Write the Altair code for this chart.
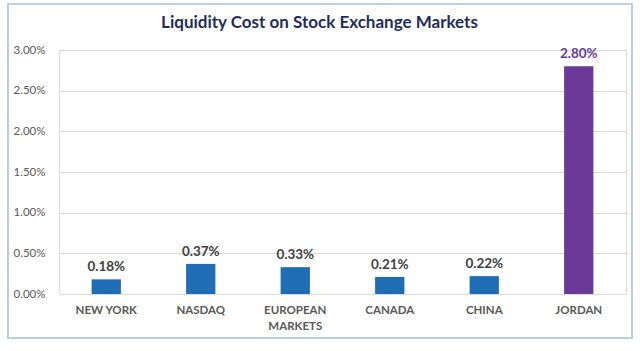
import altair as alt
import pandas as pd

markets = ["NEW YORK", "NASDAQ", "EUROPEAN MARKETS", "CANADA", "CHINA", "JORDAN"]
costs = [0.0018, 0.0037, 0.0033, 0.0021, 0.0022, 0.0280]
groups = ["other", "other", "other", "other", "other", "jordan"]

df = pd.DataFrame({"market": markets, "cost": costs, "group": groups})

FONT = "Lato"
BLUE = "#1f6db4"
PURPLE = "#6b3a98"

base = alt.Chart(df).encode(
    x=alt.X("market:N", sort=markets, title=None,
            scale=alt.Scale(paddingInner=0.69, paddingOuter=0.345),
            axis=alt.Axis(labelAngle=0, labelFont=FONT, labelFontSize=11.5,
                          labelFontWeight="bold", labelColor="#595959",
                          labelPadding=10, ticks=False, domain=False,
                          grid=False,
                          labelExpr="datum.label == 'EUROPEAN MARKETS' ? ['EUROPEAN', 'MARKETS'] : datum.label",
                          labelLineHeight=16)),
    y=alt.Y("cost:Q", title=None,
            scale=alt.Scale(domain=[0, 0.03]),
            axis=alt.Axis(format=".2%", values=[0, 0.005, 0.01, 0.015, 0.02, 0.025, 0.03],
                          labelFont=FONT, labelFontSize=11.5, labelColor="#595959",
                          labelPadding=14, ticks=False, domain=False,
                          gridColor="#d9d9d9")),
)

border = alt.Chart(df).mark_rect(fill="transparent", stroke="#b7cfe0", strokeWidth=1.2).encode(
    x=alt.value(-51), x2=alt.value(573), y=alt.value(-46), y2=alt.value(288)
)

bars = base.mark_bar().encode(
    color=alt.condition(alt.datum.group == "jordan", alt.value(PURPLE), alt.value(BLUE))
)

labels = base.mark_text(baseline="bottom", dy=-5, font=FONT, fontSize=13.5,
                        fontWeight="bold").encode(
    text=alt.Text("cost:Q", format=".2%"),
    color=alt.condition(alt.datum.group == "jordan", alt.value(PURPLE), alt.value("#404040"))
)

chart = alt.layer(border, bars, labels).properties(
    width=567, height=244,
    autosize=alt.AutoSizeParams(type="none"),
    padding={"left": 59, "top": 50, "right": 14, "bottom": 57},
    title=alt.TitleParams("Liquidity Cost on Stock Exchange Markets", font=FONT,
                          fontSize=17, fontWeight="bold", color="#1f2d5c",
                          anchor="middle", dx=-23, offset=-29),
).configure_view(strokeWidth=0, strokeOpacity=0).configure_axis(domain=False).configure(background="white")

chart.save("out.html", embed_options={"renderer": "svg", "actions": False})
